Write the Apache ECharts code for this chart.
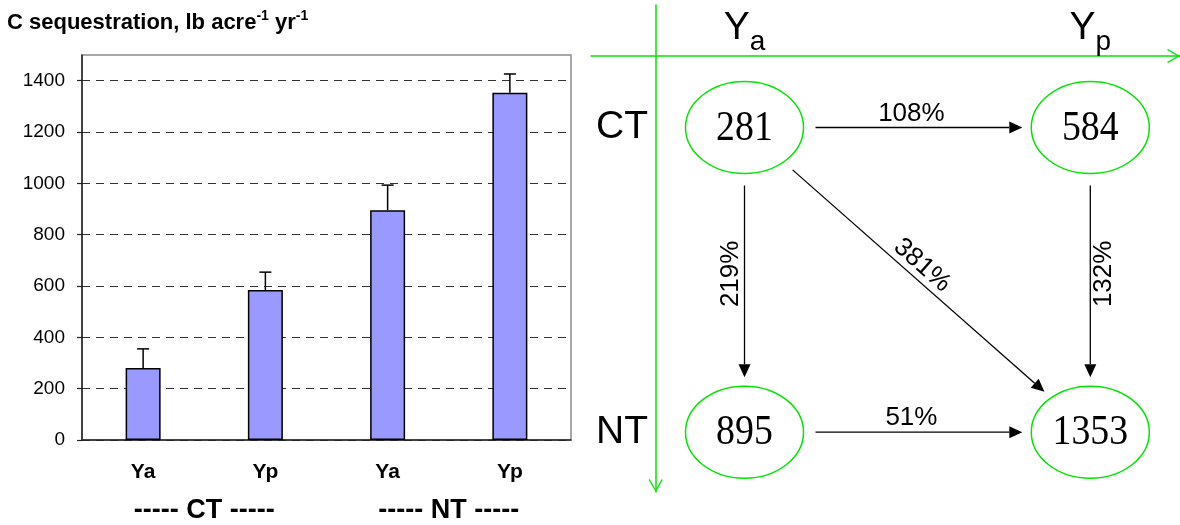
<!DOCTYPE html>
<html><head><meta charset="utf-8">
<script src="https://cdn.jsdelivr.net/npm/echarts@6/dist/echarts.min.js"></script>
<style>html,body{margin:0;padding:0;background:#fff}#c{width:1180px;height:525px}</style>
</head><body><div id="c"></div>
<script>
// ---- data ----
var barCategories = ['Ya', 'Yp', 'Ya', 'Yp'];
var groupLabels = ['CT', 'NT'];
var barValues = [281, 584, 895, 1353];
var errorValues = [74, 70, 98, 73];
var yTicks = [0, 200, 400, 600, 800, 1000, 1200, 1400];
var yMax = 1500;
var diagramColumns = ['Ya', 'Yp'];
var diagramRows = ['CT', 'NT'];
var nodeColumn = [0, 1, 0, 1];
var nodeRow = [0, 0, 1, 1];
var nodeValues = [281, 584, 895, 1353];
var linkFrom = [0, 0, 0, 1, 2];
var linkTo = [1, 2, 3, 3, 3];
var linkLabels = ['108%', '219%', '381%', '132%', '51%'];

// ---- styles ----
var SANS = 'Liberation Sans';
var SERIF = 'Liberation Serif';
var GREEN = '#00e600';
var RX = 59, RY = 46;

var chart = echarts.init(document.getElementById('c'), null, {renderer: 'canvas'});

var chevron = 'path://M7,0 L14,12 L13,13 L7,2.4 L1,13 L0,12 Z';

function ellipseR(ux, uy) {
  return 1 / Math.sqrt((ux / RX) * (ux / RX) + (uy / RY) * (uy / RY));
}

function renderErr(params, api) {
  var base = api.coord([api.value(0), api.value(1)]);
  var top = api.coord([api.value(0), api.value(2)]);
  var st = {stroke: '#000', lineWidth: 1.5};
  return {type: 'group', children: [
    {type: 'line', shape: {x1: base[0], y1: base[1], x2: top[0], y2: top[1]}, style: st},
    {type: 'line', shape: {x1: top[0] - 6, y1: top[1], x2: top[0] + 6, y2: top[1]}, style: st}
  ]};
}

function renderNode(params, api) {
  var c = api.coord([api.value(0), api.value(1)]);
  return {type: 'group', children: [
    {type: 'ellipse', shape: {cx: c[0], cy: c[1], rx: RX, ry: RY},
      style: {fill: 'none', stroke: GREEN, lineWidth: 1.5}},
    {type: 'text', x: c[0], y: c[1] + 1, scaleX: 0.88,
      style: {text: String(nodeValues[params.dataIndex]), fontFamily: SERIF, fontSize: 43,
        fill: '#000', align: 'center', verticalAlign: 'middle'}}
  ]};
}

function renderLink(params, api) {
  var p0 = api.coord([api.value(0), api.value(1)]);
  var p1 = api.coord([api.value(2), api.value(3)]);
  var dx = p1[0] - p0[0], dy = p1[1] - p0[1];
  var len = Math.sqrt(dx * dx + dy * dy);
  var ux = dx / len, uy = dy / len;
  var r = ellipseR(ux, uy);
  var rS = r + 12, rE = r + 9;
  var s = [p0[0] + ux * rS, p0[1] + uy * rS];
  var e = [p1[0] - ux * rE, p1[1] - uy * rE];
  var headL = 13, headW = 6;
  var b = [e[0] - ux * headL, e[1] - uy * headL];
  var nx = -uy, ny = ux;
  var lx, ly;
  if (Math.abs(dx) < 1e-6) {
    var cs = params.coordSys;
    var cx = cs.x + cs.width / 2;
    lx = p0[0] > cx ? 1 : -1; ly = 0;
  } else {
    lx = uy; ly = -ux;
  }
  var along = -6, perp = 14;
  var mx = (p0[0] + p1[0]) / 2 + ux * along + lx * perp;
  var my = (p0[1] + p1[1]) / 2 + uy * along + ly * perp;
  var rot = -Math.atan2(dy, dx);
  if (rot <= -Math.PI / 2 + 1e-6) rot += Math.PI;
  return {type: 'group', children: [
    {type: 'line', shape: {x1: s[0], y1: s[1], x2: b[0], y2: b[1]}, style: {stroke: '#000', lineWidth: 1.3}},
    {type: 'polygon', shape: {points: [e, [b[0] + nx * headW, b[1] + ny * headW], [b[0] - nx * headW, b[1] - ny * headW]]},
      style: {fill: '#000'}},
    {type: 'text', x: mx, y: my, rotation: rot,
      style: {text: linkLabels[params.dataIndex], fontFamily: SANS, fontSize: 26, fill: '#000',
        align: 'center', verticalAlign: 'middle'}}
  ]};
}

var option = {
  animation: false,
  backgroundColor: '#fff',
  textStyle: {fontFamily: SANS},
  title: {
    left: 7, top: 9, padding: 0,
    text: '{m|C sequestration, lb acre}{s|-1}{m| yr}{s|-1}',
    textStyle: {
      rich: {
        m: {fontFamily: SANS, fontWeight: 'bold', fontSize: 22, lineHeight: 25, verticalAlign: 'bottom', color: '#000'},
        s: {fontFamily: SANS, fontWeight: 'bold', fontSize: 14, lineHeight: 10, verticalAlign: 'top', color: '#000'}
      }
    }
  },
  grid: [
    {left: 82, top: 55, width: 489, height: 385, show: true, borderColor: '#8c8c8c', borderWidth: 1.5,
      outerBoundsMode: 'none', containLabel: false},
    {left: 591, top: 5, width: 589, height: 487, outerBoundsMode: 'none', containLabel: false},
    {left: 744.5, top: 127.5, width: 345.8, height: 304.7, outerBoundsMode: 'none', containLabel: false}
  ],
  xAxis: [
    {gridIndex: 0, type: 'category', data: barCategories, position: 'bottom',
      axisLine: {lineStyle: {color: '#222', width: 1.5}},
      axisTick: {length: 7, lineStyle: {color: '#222', width: 1.2}},
      axisLabel: {interval: 0, fontFamily: SANS, fontWeight: 'bold', fontSize: 21, color: '#000', margin: 22},
      splitLine: {show: false}},
    {gridIndex: 0, type: 'category', data: groupLabels, position: 'bottom',
      axisLine: {show: false}, axisTick: {show: false},
      axisLabel: {interval: 0, fontFamily: SANS, fontWeight: 'bold', fontSize: 27, color: '#000', margin: 57,
        formatter: '----- {value} -----'},
      splitLine: {show: false}},
    {gridIndex: 1, type: 'value', min: 0, max: 1, position: 'top', offset: -51,
      axisLine: {show: true, onZero: false, lineStyle: {color: GREEN, width: 1.5}, symbol: ['none', chevron],
        symbolSize: [14, 13], symbolOffset: [0, -6.5]},
      axisTick: {show: false}, axisLabel: {show: false}, splitLine: {show: false}},
    {gridIndex: 2, type: 'category', data: diagramColumns, position: 'top', boundaryGap: false,
      axisLine: {show: false}, axisTick: {show: false}, splitLine: {show: false},
      axisLabel: {interval: 0, margin: 79,
        formatter: function (v) { return '{Y|' + v.charAt(0) + '}{s|' + v.substring(1) + '}'; },
        rich: {
          Y: {fontFamily: SANS, fontSize: 39, lineHeight: 40, color: '#000'},
          s: {fontFamily: SANS, fontSize: 28, lineHeight: 12, padding: [28, 0, 0, 0], color: '#000'}
        }}}
  ],
  yAxis: [
    {gridIndex: 0, type: 'value', min: 0, max: yMax, interval: 200,
      axisLine: {show: true, lineStyle: {color: '#222', width: 1.5}},
      axisTick: {show: true, length: 5, lineStyle: {color: '#222', width: 1.2}, customValues: yTicks},
      axisLabel: {fontFamily: SANS, fontSize: 19, color: '#000', margin: 17, customValues: yTicks,
        formatter: function (v) { return String(v); }},
      splitLine: {show: true, lineStyle: {color: '#333', width: 1, type: [8, 6]}}},
    {gridIndex: 1, type: 'value', min: 0, max: 1, position: 'left', offset: -64.7,
      axisLine: {show: true, onZero: false, lineStyle: {color: GREEN, width: 1.5}, symbol: [chevron, 'none'],
        symbolSize: [15, 13], symbolOffset: [6.5, 0]},
      axisTick: {show: false}, axisLabel: {show: false}, splitLine: {show: false}},
    {gridIndex: 2, type: 'category', data: diagramRows, inverse: true, boundaryGap: false, position: 'left',
      axisLine: {show: false}, axisTick: {show: false}, splitLine: {show: false},
      axisLabel: {interval: 0, fontFamily: SANS, fontSize: 39, color: '#000', margin: 96.5, padding: [8, 0, 0, 0]}}
  ],
  series: [
    {type: 'bar', xAxisIndex: 0, yAxisIndex: 0, data: barValues, barWidth: 35,
      itemStyle: {color: '#9999ff', borderColor: '#000', borderWidth: 1.5}},
    {type: 'custom', xAxisIndex: 0, yAxisIndex: 0, z: 5, renderItem: renderErr,
      data: barValues.map(function (v, i) { return [i, v, v + errorValues[i]]; })},
    {type: 'custom', xAxisIndex: 3, yAxisIndex: 2, renderItem: renderNode,
      data: nodeValues.map(function (v, i) { return [nodeColumn[i], nodeRow[i], v]; })},
    {type: 'custom', xAxisIndex: 3, yAxisIndex: 2, renderItem: renderLink,
      data: linkFrom.map(function (f, i) {
        var t = linkTo[i];
        return [nodeColumn[f], nodeRow[f], nodeColumn[t], nodeRow[t]];
      })}
  ]
};
chart.setOption(option);
</script>
</body></html>
